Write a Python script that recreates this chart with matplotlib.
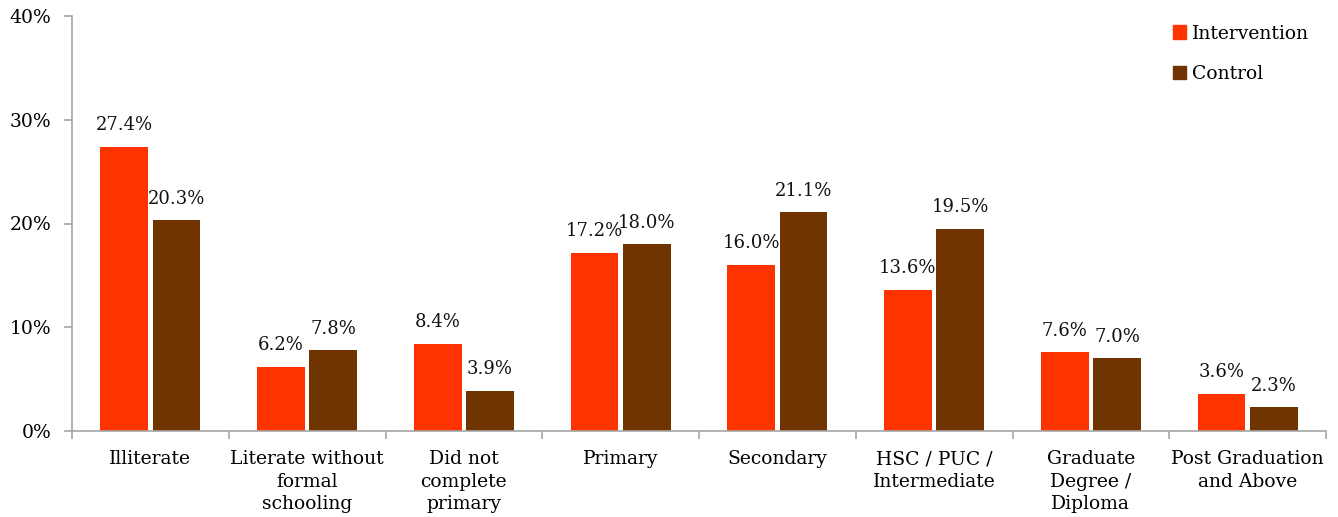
import matplotlib
matplotlib.use("Agg")
import matplotlib.pyplot as plt
import numpy as np
from matplotlib.patches import Patch

categories = [
    "Illiterate",
    "Literate without\nformal\nschooling",
    "Did not\ncomplete\nprimary",
    "Primary",
    "Secondary",
    "HSC / PUC /\nIntermediate",
    "Graduate\nDegree /\nDiploma",
    "Post Graduation\nand Above",
]
intervention = [27.4, 6.2, 8.4, 17.2, 16.0, 13.6, 7.6, 3.6]
control = [20.3, 7.8, 3.9, 18.0, 21.1, 19.5, 7.0, 2.3]
series_names = ["Intervention", "Control"]
y_ticks = [0, 10, 20, 30, 40]

c_int = "#FF3300"
c_ctl = "#703400"
axis_col = "#A6A6A6"
fs = 13.5

plt.rcParams["font.family"] = ["DejaVu Serif"]

fig = plt.figure(figsize=(13.38, 5.17), dpi=100)
ax = fig.add_axes([72 / 1338, 86 / 517, (1326 - 72) / 1338, (431 - 16) / 517])

x = np.arange(len(categories))
w = 0.305
off = 0.167
b1 = ax.bar(x - off, intervention, w, color=c_int)
b2 = ax.bar(x + off, control, w, color=c_ctl)

for bars, vals in ((b1, intervention), (b2, control)):
    for b, v in zip(bars, vals):
        ax.annotate(f"{v:.1f}%", (b.get_x() + b.get_width() / 2, v),
                    xytext=(0, 9), textcoords="offset points",
                    ha="center", va="bottom", fontsize=13, color="#111111")

ax.set_xlim(-0.5, len(categories) - 0.5)
ax.set_ylim(0, 40)
ax.set_yticks(y_ticks)
ax.set_yticklabels([f"{t}%" for t in y_ticks], fontsize=fs)
ax.set_xticks(np.arange(len(categories) + 1) - 0.5, minor=False)
ax.set_xticklabels([])
ax.set_xticks(x, minor=True)
ax.set_xticklabels(categories, minor=True, fontsize=fs, linespacing=1.3)
ax.tick_params(axis="x", which="minor", length=0, pad=14)
ax.tick_params(axis="x", which="major", length=6, color=axis_col, width=1.2)
ax.tick_params(axis="y", length=6, color=axis_col, width=1.2, pad=9)

for s in ("top", "right"):
    ax.spines[s].set_visible(False)
for s in ("left", "bottom"):
    ax.spines[s].set_color(axis_col)
    ax.spines[s].set_linewidth(1.2)

handles = [Patch(color=c_int), Patch(color=c_ctl)]
ax.legend(handles, series_names, loc="upper right", bbox_to_anchor=(1.0, 1.02),
          frameon=False, fontsize=fs, handlelength=0.7, handleheight=0.7,
          handletextpad=0.3, labelspacing=1.2)

fig.savefig("out.png", dpi=100)
